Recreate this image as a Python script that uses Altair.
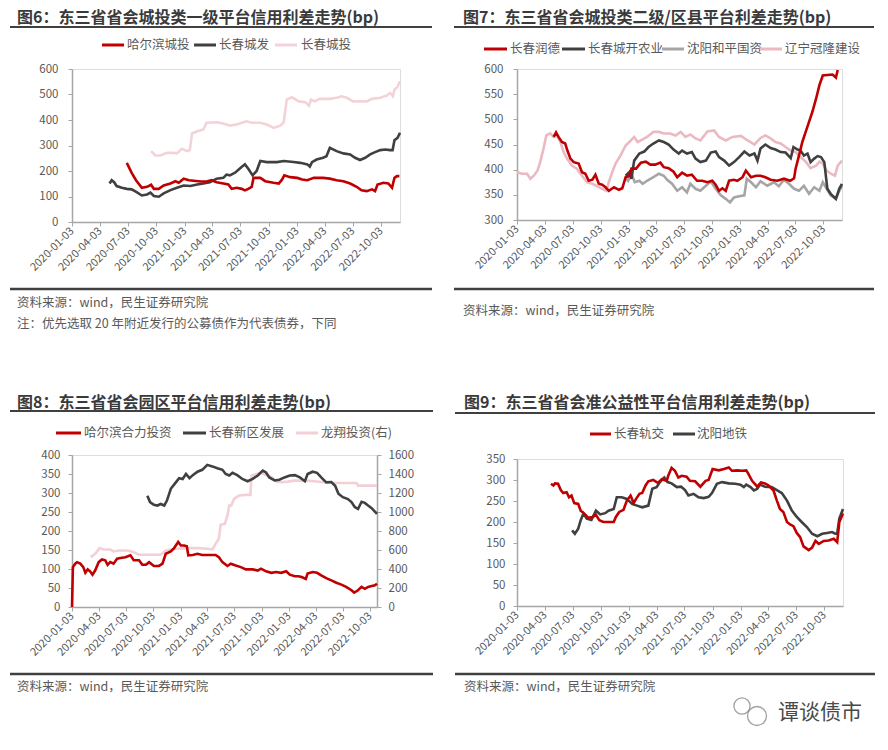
import altair as alt
import pandas as pd

FONT = "Noto Sans CJK SC"
RED = "#C00000"
DARK = "#404040"
GRAY = "#A5A5A5"
PINK1 = "#F3D3D8"
PINK2 = "#EBB9C1"
PINK3 = "#F2D0D6"
TXT = "#595959"
AX = "#A6A6A6"

START = "2020-01-03"
XTICKS = ["2020-01-03", "2020-04-03", "2020-07-03", "2020-10-03", "2021-01-03", "2021-04-03",
          "2021-07-03", "2021-10-03", "2022-01-03", "2022-04-03", "2022-07-03", "2022-10-03"]

# ---------------- 图6 ----------------
P6_HRB = [("2020-06-29", 232), ("2020-07-15", 193), ("2020-07-29", 164), ("2020-08-17", 134), ("2020-09-03", 138),
          ("2020-09-16", 146), ("2020-09-25", 130), ("2020-10-11", 130), ("2020-10-27", 143), ("2020-11-18", 151),
          ("2020-12-04", 160), ("2020-12-15", 154), ("2020-12-31", 170), ("2021-01-17", 164), ("2021-02-02", 162),
          ("2021-02-24", 159), ("2021-03-15", 159), ("2021-04-01", 164), ("2021-04-17", 156), ("2021-05-09", 151),
          ("2021-05-25", 147), ("2021-06-05", 130), ("2021-06-21", 134), ("2021-07-08", 130), ("2021-07-18", 124),
          ("2021-07-29", 130), ("2021-08-09", 138), ("2021-08-15", 173), ("2021-09-06", 173), ("2021-09-22", 160),
          ("2021-10-19", 154), ("2021-11-05", 151), ("2021-11-16", 167), ("2021-11-23", 183), ("2021-12-12", 176),
          ("2022-01-04", 173), ("2022-01-20", 167), ("2022-02-06", 164), ("2022-02-27", 173), ("2022-03-29", 173),
          ("2022-04-20", 170), ("2022-05-12", 164), ("2022-06-03", 160), ("2022-06-25", 151), ("2022-07-16", 138),
          ("2022-08-01", 124), ("2022-08-18", 121), ("2022-09-04", 128), ("2022-09-14", 121), ("2022-09-22", 147),
          ("2022-10-11", 154), ("2022-10-27", 151), ("2022-11-08", 134), ("2022-11-16", 173), ("2022-11-24", 180),
          ("2022-12-02", 180)]
P6_CCCF = [("2020-05-04", 151), ("2020-05-11", 164), ("2020-05-19", 156), ("2020-05-27", 141), ("2020-06-13", 134),
           ("2020-06-29", 130), ("2020-07-15", 128), ("2020-07-31", 117), ("2020-08-17", 104), ("2020-09-03", 108),
           ("2020-09-14", 115), ("2020-09-25", 102), ("2020-10-11", 99), ("2020-10-27", 112), ("2020-11-18", 125),
           ("2020-12-09", 134), ("2020-12-31", 143), ("2021-01-22", 141), ("2021-02-13", 147), ("2021-03-05", 151),
           ("2021-03-26", 156), ("2021-04-17", 170), ("2021-05-09", 173), ("2021-05-19", 186), ("2021-05-30", 183),
           ("2021-06-16", 193), ("2021-07-08", 217), ("2021-07-18", 226), ("2021-07-29", 209), ("2021-08-12", 183),
           ("2021-08-25", 200), ("2021-09-06", 239), ("2021-09-27", 235), ("2021-10-30", 235), ("2021-11-21", 239),
           ("2021-12-23", 235), ("2022-01-14", 232), ("2022-02-06", 226), ("2022-02-14", 217), ("2022-02-21", 235),
           ("2022-03-08", 245), ("2022-03-29", 252), ("2022-04-09", 258), ("2022-04-20", 291), ("2022-05-12", 278),
           ("2022-06-03", 269), ("2022-06-25", 265), ("2022-07-11", 252), ("2022-07-27", 243), ("2022-08-13", 252),
           ("2022-08-29", 265), ("2022-09-14", 274), ("2022-10-01", 282), ("2022-10-17", 284), ("2022-11-02", 282),
           ("2022-11-10", 282), ("2022-11-16", 321), ("2022-11-26", 330), ("2022-12-04", 350)]
P6_CCCT = [("2020-09-16", 278), ("2020-09-30", 261), ("2020-10-16", 261), ("2020-11-07", 271), ("2020-11-28", 271),
           ("2020-12-09", 269), ("2020-12-25", 287), ("2021-01-11", 278), ("2021-01-20", 282), ("2021-01-27", 347),
           ("2021-02-13", 356), ("2021-03-05", 363), ("2021-03-15", 389), ("2021-04-17", 391), ("2021-05-09", 386),
           ("2021-05-30", 378), ("2021-06-21", 382), ("2021-07-08", 389), ("2021-07-23", 395), ("2021-08-09", 389),
           ("2021-09-06", 389), ("2021-09-27", 382), ("2021-10-19", 369), ("2021-11-10", 378), ("2021-11-21", 391),
           ("2021-12-01", 480), ("2021-12-18", 489), ("2022-01-09", 473), ("2022-01-30", 470), ("2022-02-11", 456),
           ("2022-02-18", 480), ("2022-03-02", 473), ("2022-03-18", 483), ("2022-04-20", 483), ("2022-05-12", 487),
           ("2022-05-28", 493), ("2022-06-14", 487), ("2022-07-05", 473), ("2022-07-27", 473), ("2022-08-18", 473),
           ("2022-09-04", 483), ("2022-10-01", 487), ("2022-10-22", 496), ("2022-11-02", 506), ("2022-11-11", 493),
           ("2022-11-16", 519), ("2022-11-26", 530), ("2022-12-04", 552)]

# ---------------- 图7 ----------------
P7_RD = [("2020-05-02", 465), ("2020-05-10", 474), ("2020-05-18", 465), ("2020-05-29", 455), ("2020-06-09", 452),
         ("2020-06-15", 440), ("2020-06-26", 422), ("2020-07-07", 415), ("2020-07-23", 412), ("2020-08-03", 395),
         ("2020-08-14", 392), ("2020-08-25", 378), ("2020-09-06", 380), ("2020-09-16", 390), ("2020-09-27", 372),
         ("2020-10-08", 370), ("2020-10-19", 365), ("2020-10-30", 358), ("2020-11-16", 365), ("2020-12-02", 360),
         ("2020-12-13", 363), ("2020-12-24", 385), ("2021-01-05", 388), ("2021-01-12", 402), ("2021-01-27", 402),
         ("2021-02-12", 414), ("2021-02-28", 416), ("2021-03-15", 410), ("2021-03-31", 410), ("2021-04-17", 414),
         ("2021-04-28", 405), ("2021-05-14", 403), ("2021-05-30", 396), ("2021-06-11", 385), ("2021-06-27", 394),
         ("2021-07-13", 388), ("2021-07-29", 390), ("2021-08-15", 378), ("2021-09-01", 378), ("2021-09-18", 375),
         ("2021-10-04", 378), ("2021-10-15", 370), ("2021-10-26", 358), ("2021-11-06", 363), ("2021-11-17", 358),
         ("2021-11-28", 378), ("2021-12-14", 380), ("2021-12-25", 378), ("2022-01-11", 385), ("2022-01-22", 398),
         ("2022-02-08", 385), ("2022-02-24", 388), ("2022-03-11", 388), ("2022-03-27", 385), ("2022-04-13", 380),
         ("2022-05-05", 378), ("2022-05-27", 382), ("2022-06-16", 378), ("2022-06-29", 383), ("2022-07-04", 402),
         ("2022-07-15", 428), ("2022-07-26", 455), ("2022-08-06", 475), ("2022-08-17", 495), ("2022-08-28", 515),
         ("2022-09-09", 541), ("2022-09-20", 568), ("2022-10-01", 587), ("2022-10-16", 588), ("2022-11-02", 589),
         ("2022-11-13", 583), ("2022-11-19", 598)]
P7_CK = [("2020-12-24", 388), ("2021-01-05", 395), ("2021-01-12", 382), ("2021-01-21", 418), ("2021-02-07", 432),
         ("2021-02-23", 436), ("2021-03-09", 445), ("2021-03-25", 452), ("2021-04-12", 458), ("2021-04-28", 455),
         ("2021-05-14", 450), ("2021-05-30", 440), ("2021-06-16", 432), ("2021-06-27", 438), ("2021-07-13", 432),
         ("2021-07-29", 435), ("2021-08-10", 422), ("2021-08-26", 415), ("2021-09-13", 418), ("2021-09-29", 434),
         ("2021-10-15", 436), ("2021-10-26", 425), ("2021-11-12", 418), ("2021-11-28", 408), ("2021-12-14", 415),
         ("2021-12-31", 425), ("2022-01-17", 436), ("2022-02-03", 428), ("2022-02-19", 432), ("2022-03-01", 418),
         ("2022-03-11", 442), ("2022-03-27", 450), ("2022-04-13", 443), ("2022-04-29", 440), ("2022-05-16", 435),
         ("2022-06-01", 434), ("2022-06-18", 423), ("2022-06-27", 445), ("2022-07-10", 440), ("2022-07-20", 438),
         ("2022-07-31", 428), ("2022-08-12", 432), ("2022-08-22", 415), ("2022-09-03", 422), ("2022-09-14", 427),
         ("2022-09-25", 425), ("2022-10-06", 415), ("2022-10-16", 362), ("2022-10-27", 352), ("2022-11-13", 342),
         ("2022-11-24", 362), ("2022-12-03", 372)]
P7_HP = [("2020-12-20", 385), ("2021-01-01", 378), ("2021-01-12", 392), ("2021-01-23", 375), ("2021-02-07", 378),
         ("2021-02-18", 372), ("2021-03-04", 378), ("2021-03-25", 385), ("2021-04-12", 392), ("2021-04-28", 388),
         ("2021-05-09", 380), ("2021-05-25", 372), ("2021-06-11", 358), ("2021-06-27", 365), ("2021-07-13", 355),
         ("2021-07-24", 372), ("2021-08-10", 362), ("2021-08-26", 358), ("2021-09-13", 368), ("2021-09-29", 377),
         ("2021-10-15", 362), ("2021-11-01", 349), ("2021-11-17", 342), ("2021-12-01", 335), ("2021-12-14", 345),
         ("2021-12-31", 347), ("2022-01-17", 349), ("2022-01-25", 382), ("2022-02-08", 375), ("2022-02-24", 365),
         ("2022-03-11", 377), ("2022-04-02", 368), ("2022-04-24", 375), ("2022-05-10", 367), ("2022-05-27", 380),
         ("2022-06-12", 372), ("2022-06-29", 362), ("2022-07-15", 358), ("2022-07-31", 368), ("2022-08-17", 352),
         ("2022-09-03", 365), ("2022-09-20", 358), ("2022-10-01", 375), ("2022-10-11", 365), ("2022-10-27", 349),
         ("2022-11-13", 342), ("2022-11-24", 358), ("2022-12-03", 368)]
P7_GL = [("2020-01-03", 395), ("2020-01-19", 392), ("2020-02-05", 392), ("2020-02-16", 382), ("2020-02-27", 388),
         ("2020-03-10", 398), ("2020-03-19", 415), ("2020-03-30", 442), ("2020-04-08", 468), ("2020-04-21", 472),
         ("2020-05-02", 465), ("2020-05-13", 468), ("2020-05-24", 455), ("2020-06-04", 435), ("2020-06-15", 422),
         ("2020-07-01", 408), ("2020-07-17", 402), ("2020-08-03", 388), ("2020-08-20", 375), ("2020-09-06", 372),
         ("2020-09-22", 367), ("2020-10-08", 362), ("2020-10-22", 358), ("2020-10-30", 375), ("2020-11-10", 395),
         ("2020-11-21", 412), ("2020-12-07", 428), ("2020-12-24", 448), ("2021-01-10", 458), ("2021-01-21", 465),
         ("2021-02-01", 455), ("2021-02-18", 460), ("2021-03-04", 465), ("2021-03-25", 475), ("2021-04-12", 475),
         ("2021-04-28", 472), ("2021-05-19", 472), ("2021-06-06", 468), ("2021-06-22", 475), ("2021-07-08", 465),
         ("2021-07-24", 470), ("2021-08-10", 462), ("2021-08-26", 458), ("2021-09-18", 476), ("2021-10-10", 478),
         ("2021-10-26", 465), ("2021-11-17", 458), ("2021-12-09", 465), ("2022-01-06", 467), ("2022-01-28", 458),
         ("2022-02-19", 450), ("2022-03-11", 463), ("2022-03-27", 468), ("2022-04-13", 462), ("2022-04-29", 455),
         ("2022-05-16", 452), ("2022-06-01", 445), ("2022-06-18", 438), ("2022-07-04", 435), ("2022-07-20", 425),
         ("2022-08-06", 416), ("2022-08-22", 403), ("2022-09-09", 408), ("2022-09-20", 416), ("2022-10-01", 412),
         ("2022-10-14", 398), ("2022-10-27", 392), ("2022-11-10", 388), ("2022-11-19", 408), ("2022-12-03", 418)]

# ---------------- 图8 ----------------
P8_HL = [("2020-01-03", 0), ("2020-01-06", 105), ("2020-01-14", 114), ("2020-01-20", 118), ("2020-01-31", 114),
         ("2020-02-10", 105), ("2020-02-17", 90), ("2020-02-25", 99), ("2020-03-04", 94), ("2020-03-12", 85),
         ("2020-03-21", 96), ("2020-04-02", 118), ("2020-04-13", 125), ("2020-04-24", 123), ("2020-05-02", 111),
         ("2020-05-11", 118), ("2020-05-22", 114), ("2020-06-03", 127), ("2020-06-14", 129), ("2020-07-01", 131),
         ("2020-07-18", 136), ("2020-07-29", 123), ("2020-08-16", 123), ("2020-08-27", 111), ("2020-09-08", 111),
         ("2020-09-19", 118), ("2020-10-05", 108), ("2020-10-22", 108), ("2020-11-03", 114), ("2020-11-14", 140),
         ("2020-12-01", 146), ("2020-12-12", 155), ("2020-12-26", 171), ("2021-01-04", 162), ("2021-01-15", 162),
         ("2021-01-24", 160), ("2021-01-29", 136), ("2021-02-13", 137), ("2021-03-01", 140), ("2021-03-17", 137),
         ("2021-04-09", 137), ("2021-05-01", 137), ("2021-05-12", 131), ("2021-05-24", 118), ("2021-06-10", 108),
         ("2021-06-21", 114), ("2021-07-08", 109), ("2021-07-25", 105), ("2021-08-11", 99), ("2021-09-03", 99),
         ("2021-09-20", 96), ("2021-10-01", 101), ("2021-10-18", 94), ("2021-11-05", 90), ("2021-11-21", 92),
         ("2021-12-08", 90), ("2021-12-25", 94), ("2022-01-06", 85), ("2022-01-23", 81), ("2022-02-04", 81),
         ("2022-02-15", 79), ("2022-03-01", 74), ("2022-03-07", 88), ("2022-03-24", 92), ("2022-04-08", 90),
         ("2022-04-22", 83), ("2022-05-09", 76), ("2022-05-26", 70), ("2022-06-12", 64), ("2022-06-29", 59),
         ("2022-07-15", 53), ("2022-08-02", 44), ("2022-08-11", 38), ("2022-08-24", 44), ("2022-09-05", 53),
         ("2022-09-16", 48), ("2022-09-27", 53), ("2022-10-09", 55), ("2022-10-20", 57), ("2022-10-27", 61)]
P8_XQ = [("2020-09-13", 293), ("2020-09-22", 276), ("2020-10-05", 269), ("2020-10-17", 267), ("2020-10-28", 271),
         ("2020-11-09", 267), ("2020-11-18", 280), ("2020-12-01", 311), ("2020-12-18", 328), ("2020-12-29", 339),
         ("2021-01-10", 337), ("2021-01-21", 350), ("2021-02-02", 339), ("2021-02-13", 347), ("2021-03-01", 356),
         ("2021-03-17", 361), ("2021-04-03", 374), ("2021-04-20", 370), ("2021-05-07", 365), ("2021-05-24", 361),
         ("2021-06-04", 350), ("2021-06-16", 346), ("2021-06-27", 353), ("2021-07-13", 347), ("2021-07-30", 337),
         ("2021-08-17", 331), ("2021-09-03", 337), ("2021-09-20", 346), ("2021-10-07", 359), ("2021-10-18", 354),
         ("2021-10-29", 341), ("2021-11-16", 333), ("2021-12-02", 335), ("2021-12-19", 341), ("2022-01-06", 346),
         ("2022-01-23", 347), ("2022-02-09", 341), ("2022-02-26", 331), ("2022-03-07", 350), ("2022-03-24", 356),
         ("2022-04-08", 353), ("2022-04-22", 341), ("2022-05-09", 328), ("2022-05-26", 329), ("2022-06-08", 319),
         ("2022-06-19", 298), ("2022-07-04", 289), ("2022-07-21", 284), ("2022-08-02", 276), ("2022-08-13", 263),
         ("2022-08-24", 258), ("2022-09-05", 277), ("2022-09-16", 274), ("2022-09-27", 267), ("2022-10-09", 260),
         ("2022-10-27", 245)]
P8_LX = [("2020-03-06", 525), ("2020-03-21", 560), ("2020-04-05", 620), ("2020-04-19", 606), ("2020-05-11", 606),
         ("2020-05-22", 585), ("2020-06-09", 595), ("2020-07-07", 595), ("2020-07-23", 585), ("2020-08-16", 550),
         ("2020-09-13", 550), ("2020-10-28", 550), ("2020-11-14", 595), ("2020-12-01", 606), ("2020-12-24", 613),
         ("2021-01-24", 620), ("2021-03-01", 620), ("2021-04-03", 613), ("2021-04-20", 606), ("2021-05-01", 665),
         ("2021-05-12", 718), ("2021-05-18", 865), ("2021-06-01", 875), ("2021-06-10", 963), ("2021-06-16", 1068),
         ("2021-06-23", 1068), ("2021-07-02", 1138), ("2021-07-19", 1173), ("2021-08-11", 1180), ("2021-08-26", 1180),
         ("2021-08-30", 1383), ("2021-09-15", 1400), ("2021-10-01", 1411), ("2021-10-18", 1390), ("2021-11-05", 1366),
         ("2021-11-21", 1320), ("2021-12-08", 1313), ("2021-12-31", 1320), ("2022-01-23", 1330), ("2022-03-01", 1330),
         ("2022-03-30", 1323), ("2022-05-03", 1313), ("2022-06-08", 1306), ("2022-07-10", 1306), ("2022-08-19", 1306),
         ("2022-08-24", 1278), ("2022-10-27", 1278)]

# ---------------- 图9 ----------------
P9_GJ = [("2020-04-23", 291), ("2020-05-01", 287), ("2020-05-06", 292), ("2020-05-16", 291), ("2020-05-25", 276),
         ("2020-06-02", 269), ("2020-06-13", 271), ("2020-06-21", 259), ("2020-06-29", 263), ("2020-07-08", 245),
         ("2020-07-21", 243), ("2020-07-29", 227), ("2020-08-10", 220), ("2020-08-23", 210), ("2020-09-06", 212),
         ("2020-09-17", 217), ("2020-09-28", 204), ("2020-10-11", 200), ("2020-10-28", 200), ("2020-11-14", 200),
         ("2020-11-21", 212), ("2020-12-02", 224), ("2020-12-16", 229), ("2020-12-27", 251), ("2021-01-08", 263),
         ("2021-01-18", 245), ("2021-01-26", 255), ("2021-02-06", 267), ("2021-02-15", 269), ("2021-02-26", 287),
         ("2021-03-07", 297), ("2021-03-23", 300), ("2021-04-07", 293), ("2021-04-20", 302), ("2021-05-06", 298),
         ("2021-05-11", 310), ("2021-05-22", 329), ("2021-06-02", 322), ("2021-06-13", 306), ("2021-06-24", 310),
         ("2021-07-10", 308), ("2021-07-21", 298), ("2021-08-07", 297), ("2021-08-24", 284), ("2021-09-10", 298),
         ("2021-09-20", 300), ("2021-10-03", 326), ("2021-10-23", 323), ("2021-11-09", 326), ("2021-11-25", 330),
         ("2021-12-05", 322), ("2021-12-22", 323), ("2022-01-08", 322), ("2022-01-21", 323), ("2022-01-27", 316),
         ("2022-02-09", 298), ("2022-02-26", 284), ("2022-03-10", 294), ("2022-03-23", 292), ("2022-04-04", 287),
         ("2022-04-20", 275), ("2022-05-01", 251), ("2022-05-11", 231), ("2022-05-22", 224), ("2022-06-03", 200),
         ("2022-06-13", 194), ("2022-06-24", 190), ("2022-07-05", 174), ("2022-07-16", 164), ("2022-07-27", 142),
         ("2022-08-13", 133), ("2022-08-24", 139), ("2022-09-04", 155), ("2022-09-15", 148), ("2022-10-01", 155),
         ("2022-10-17", 156), ("2022-11-03", 160), ("2022-11-14", 152), ("2022-11-21", 200), ("2022-12-03", 220)]
P9_DT = [("2020-07-01", 180), ("2020-07-10", 172), ("2020-07-21", 184), ("2020-07-29", 204), ("2020-08-07", 220),
         ("2020-08-18", 208), ("2020-09-02", 205), ("2020-09-17", 227), ("2020-10-01", 218), ("2020-10-17", 221),
         ("2020-10-28", 227), ("2020-11-14", 231), ("2020-11-24", 259), ("2020-12-10", 259), ("2020-12-27", 255),
         ("2021-01-13", 243), ("2021-01-29", 239), ("2021-02-15", 235), ("2021-03-07", 239), ("2021-03-20", 279),
         ("2021-04-03", 283), ("2021-04-14", 295), ("2021-04-28", 306), ("2021-05-09", 295), ("2021-05-22", 292),
         ("2021-06-08", 283), ("2021-06-22", 284), ("2021-07-05", 276), ("2021-07-16", 263), ("2021-08-02", 267),
         ("2021-08-18", 259), ("2021-09-04", 257), ("2021-09-20", 260), ("2021-10-01", 269), ("2021-10-17", 291),
         ("2021-11-03", 295), ("2021-11-25", 292), ("2021-12-16", 291), ("2022-01-02", 289), ("2022-01-13", 283),
         ("2022-01-21", 289), ("2022-02-04", 283), ("2022-02-15", 275), ("2022-02-26", 279), ("2022-03-07", 289),
         ("2022-03-23", 284), ("2022-04-14", 283), ("2022-05-01", 276), ("2022-05-17", 269), ("2022-06-03", 251),
         ("2022-06-19", 227), ("2022-07-05", 212), ("2022-07-21", 200), ("2022-08-07", 188), ("2022-08-24", 172),
         ("2022-09-10", 166), ("2022-09-26", 172), ("2022-10-12", 174), ("2022-10-28", 176), ("2022-11-08", 172),
         ("2022-11-14", 172), ("2022-11-21", 208), ("2022-12-03", 231)]

SOURCE = "资料来源：wind，民生证券研究院"
NOTE = "注：优先选取 20 年附近发行的公募债作为代表债券，下同"

ONE = pd.DataFrame({"k": [0]})


def dt(s):
    y, m, d = (int(p) for p in s.split("-"))
    return alt.DateTime(year=y, month=m, date=d)


def to_df(pairs):
    return pd.DataFrame({"date": pd.to_datetime([d for d, _ in pairs]), "v": [v for _, v in pairs]})


def x_enc(end):
    return alt.X("date:T", title=None,
                 scale=alt.Scale(domain=[dt(START), dt(end)], nice=False),
                 axis=alt.Axis(values=[dt(t) for t in XTICKS], format="%Y-%m-%d", labelAngle=315,
                               labelAlign="right", labelBaseline="middle", labelPadding=3,
                               labelFontSize=11, labelFont=FONT, labelColor=TXT, labelOverlap=False,
                               labelBound=False, labelFlush=False, tickSize=4, tickColor=AX,
                               domainColor=AX, domainWidth=1.5, grid=False))


def y_enc(domain, values, orient="left", pad=8):
    return alt.Y("v:Q", title=None,
                 scale=alt.Scale(domain=domain, nice=False, zero=False),
                 axis=alt.Axis(values=values, orient=orient, format="d", labelFontSize=11.5, labelFont=FONT,
                               labelColor=TXT, tickSize=4, tickColor=AX, domainColor=AX,
                               domainWidth=1.5, labelPadding=pad, grid=False, labelFlush=False))


def line(pairs, color, xe, ye, w=2.6):
    return alt.Chart(to_df(pairs)).mark_line(color=color, strokeWidth=w).encode(x=xe, y=ye)


def txt(s, x, y, size=12.5, color=TXT, weight="normal", align="left"):
    return alt.Chart(ONE).mark_text(text=s, align=align, baseline="middle", fontSize=size, font=FONT,
                                    color=color, fontWeight=weight).encode(x=alt.value(x), y=alt.value(y))


def hrule(x1, x2, y, color=DARK, w=2.0):
    return alt.Chart(ONE).mark_rule(color=color, strokeWidth=w).encode(
        x=alt.value(x1), x2=alt.value(x2), y=alt.value(y))


def ring(x, y, size):
    return alt.Chart(ONE).mark_point(shape="circle", filled=False, stroke="#7A7A7A", strokeWidth=1.3).encode(
        x=alt.value(x), y=alt.value(y), size=alt.value(size))


def legend(items, y):
    out = []
    for label, color, x1, x2, xt in items:
        out.append(hrule(x1, x2, y, color, 3))
        out.append(txt(label, xt, y, 12.5, TXT))
    return out


def frame(title, tx, ty, rx1, rx2, ry, by, sy):
    return [txt(title, tx, ty, 16, "#3A3A3A", "bold"),
            hrule(rx1, rx2, ry, DARK, 2.2),
            hrule(rx1, rx2, by, DARK, 2.6),
            txt(SOURCE, tx, sy, 12.5, TXT)]


# Panel 6
xe1 = x_enc("2022-12-04")
ye1 = y_enc([0, 600], [0, 100, 200, 300, 400, 500, 600], pad=10)
p6 = alt.layer(
    line(P6_CCCT, PINK1, xe1, ye1), line(P6_CCCF, DARK, xe1, ye1), line(P6_HRB, RED, xe1, ye1),
    *frame("图6：东三省省会城投类一级平台信用利差走势(bp)", -55, -51, -62, 360, -42, 220, 234),
    txt(NOTE, -55, 255, 12.5, TXT),
    *legend([("哈尔滨城投", RED, 30, 52, 55), ("长春城发", DARK, 122, 144, 147),
             ("长春城投", PINK1, 203, 225, 229)], -24),
).properties(width=328, height=153)

# Panel 7
xe2 = x_enc("2022-12-03")
ye2 = y_enc([300, 600], [300, 350, 400, 450, 500, 550, 600], pad=10)
p7 = alt.layer(
    line(P7_GL, PINK2, xe2, ye2), line(P7_HP, GRAY, xe2, ye2), line(P7_CK, DARK, xe2, ye2),
    line(P7_RD, RED, xe2, ye2),
    *frame("图7：东三省省会城投类二级/区县平台利差走势(bp)", -54, -51, -63, 357, -42, 220, 242),
    *legend([("长春润德", RED, -33, -10, -7), ("长春城开农业", DARK, 45, 68, 71),
             ("沈阳和平国资", GRAY, 145, 167, 170), ("辽宁冠隆建设", PINK2, 243, 265, 268)], -20),
).properties(width=325, height=151)

# Panel 8
xe3 = x_enc("2022-10-27")
ye3 = y_enc([0, 400], [0, 50, 100, 150, 200, 250, 300, 350, 400], pad=8)
ye3r = y_enc([0, 1600], [0, 200, 400, 600, 800, 1000, 1200, 1400, 1600], orient="right", pad=7)
left3 = alt.layer(line(P8_XQ, DARK, xe3, ye3), line(P8_HL, RED, xe3, ye3))
right3 = line(P8_LX, PINK3, xe3, ye3r)
p8 = alt.layer(
    right3, left3,
    *frame("图8：东三省省会园区平台信用利差走势(bp)", -55, -52, -62, 361, -44, 219, 232),
    *legend([("哈尔滨合力投资", RED, -16, 9, 12), ("长春新区发展", DARK, 111, 134, 137),
             ("龙翔投资(右)", PINK3, 224, 246, 249)], -22),
).resolve_scale(y="independent").properties(width=305, height=152)

# Panel 9
xe4 = x_enc("2022-12-03")
ye4 = y_enc([0, 350], [0, 50, 100, 150, 200, 250, 300, 350], pad=8)
p9 = alt.layer(
    line(P9_DT, DARK, xe4, ye4), line(P9_GJ, RED, xe4, ye4),
    *frame("图9：东三省省会准公益性平台信用利差走势(bp)", -53, -56, -62, 358, -46, 215, 228),
    *legend([("长春轨交", RED, 73, 94, 97), ("沈阳地铁", DARK, 156, 178, 180)], -25),
    ring(225, 247, 260), ring(240, 257, 360),
    txt("谭谈债市", 261, 254, 21, "#4A4A4A"),
).properties(width=326, height=147)

col1 = alt.vconcat(p6, p8, spacing=63)
col2 = alt.vconcat(p7, p9, spacing=76)
chart = alt.hconcat(col1, col2, spacing=17).properties(
    padding={"left": 0, "top": 1, "right": 0, "bottom": 0}
).configure_view(stroke=None).configure(background="white")

chart.save("out.html", embed_options={"renderer": "svg", "actions": False})
